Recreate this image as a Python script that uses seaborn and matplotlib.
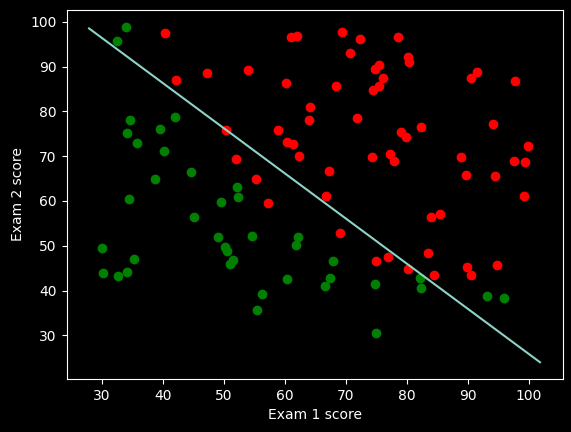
import matplotlib
matplotlib.use('Agg')
import matplotlib.pyplot as plt
import seaborn as sns
import pandas as pd

# exam scores (exam 1, exam 2) and admission result
exam1 = [34.62, 30.29, 35.85, 60.18, 79.03, 45.08, 61.11, 75.02, 76.10, 84.43,
         95.86, 75.01, 82.31, 69.36, 39.54, 53.97, 69.07, 67.95, 70.66, 76.98,
         67.37, 89.68, 50.53, 34.21, 77.92, 62.27, 80.19, 93.11, 61.83, 38.79,
         61.38, 85.40, 52.11, 52.05, 40.24, 54.64, 33.92, 64.18, 74.79, 34.18,
         83.90, 51.55, 94.44, 82.37, 51.05, 62.22, 77.19, 97.77, 62.07, 91.56,
         79.94, 99.27, 90.55, 34.52, 50.29, 49.59, 97.65, 32.58, 74.25, 71.80,
         75.40, 35.29, 56.25, 30.06, 44.67, 66.56, 40.46, 49.07, 80.28, 66.75,
         32.72, 64.04, 72.35, 60.46, 58.84, 99.83, 47.26, 50.46, 60.46, 82.23,
         88.91, 94.83, 67.32, 57.24, 80.37, 68.47, 42.08, 75.48, 78.64, 52.35,
         94.09, 90.45, 55.48, 74.49, 89.85, 83.49, 42.26, 99.32, 55.34, 74.78]
exam2 = [78.02, 43.89, 72.90, 86.31, 75.34, 56.32, 96.51, 46.55, 87.42, 43.53,
         38.23, 30.60, 76.48, 97.72, 76.04, 89.21, 52.74, 46.68, 92.93, 47.58,
         42.84, 65.80, 48.86, 44.21, 68.97, 69.95, 44.82, 38.80, 50.26, 65.00,
         72.81, 57.05, 63.13, 69.43, 71.17, 52.21, 98.87, 80.91, 41.57, 75.24,
         56.31, 46.86, 65.57, 40.62, 45.82, 52.06, 70.46, 86.73, 96.77, 88.70,
         74.16, 61.00, 43.39, 60.40, 49.80, 59.81, 68.86, 95.60, 69.82, 78.45,
         85.76, 47.02, 39.26, 49.59, 66.45, 41.09, 97.54, 51.88, 92.12, 60.99,
         43.31, 78.03, 96.23, 73.09, 75.86, 72.37, 88.48, 75.81, 42.51, 42.72,
         69.80, 45.69, 66.59, 59.51, 90.96, 85.59, 78.84, 90.42, 96.65, 60.77,
         77.16, 87.51, 35.57, 84.85, 45.36, 48.38, 87.10, 68.78, 64.93, 89.53]
admitted = [0, 0, 0, 1, 1, 0, 1, 1, 1, 1,
            0, 0, 1, 1, 0, 1, 1, 0, 1, 1,
            0, 1, 0, 0, 1, 1, 1, 0, 0, 0,
            1, 1, 0, 1, 0, 0, 0, 1, 0, 0,
            1, 0, 1, 0, 0, 0, 1, 1, 1, 1,
            1, 1, 1, 0, 0, 0, 1, 0, 1, 1,
            1, 0, 0, 0, 0, 0, 1, 0, 1, 1,
            0, 1, 1, 1, 1, 1, 1, 1, 0, 0,
            1, 1, 1, 1, 1, 1, 0, 1, 1, 0,
            1, 1, 0, 1, 1, 1, 1, 1, 1, 1]

# decision boundary end points
boundary_x = [27.94, 101.83]
boundary_y = [98.5, 24.0]

df = pd.DataFrame({'exam1': exam1, 'exam2': exam2, 'admitted': admitted})
pos = df[df['admitted'] == 1]
neg = df[df['admitted'] == 0]

plt.style.use('dark_background')
fig = plt.figure(figsize=(5.71, 4.32), dpi=100)
ax = fig.add_axes([66.5 / 571, 53 / 432, 496 / 571, 369 / 432])

sns.scatterplot(x='exam1', y='exam2', data=pos, color='red', edgecolor='red',
                s=36, linewidth=1, ax=ax)
sns.scatterplot(x='exam1', y='exam2', data=neg, color='green', edgecolor='green',
                s=36, linewidth=1, ax=ax)
sns.lineplot(x=boundary_x, y=boundary_y, color='#8dd3c7', ax=ax)

ax.set_xlabel('Exam 1 score')
ax.set_ylabel('Exam 2 score')

fig.savefig('out.png', dpi=100)
